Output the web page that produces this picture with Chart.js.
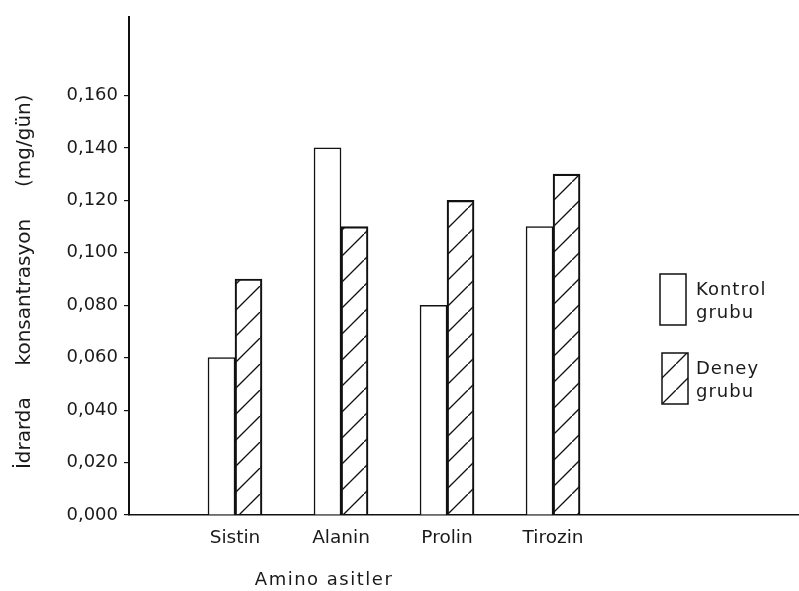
<!DOCTYPE html>
<html>
<head>
<meta charset="utf-8">
<script src="https://cdn.jsdelivr.net/npm/chart.js@4.4.1/dist/chart.umd.min.js"></script>
<style>
  body { margin: 0; background: #fff; }
  #wrap { width: 799px; height: 591px; }
</style>
</head>
<body>
<div id="wrap"><canvas id="chart" width="799" height="591"></canvas></div>
<script>
// values
const categories = ['Sistin', 'Alanin', 'Prolin', 'Tirozin'];
const kontrolGrubu = [0.060, 0.140, 0.080, 0.110];
const deneyGrubu = [0.090, 0.110, 0.120, 0.130];
const yTickValues = [0, 0.02, 0.04, 0.06, 0.08, 0.10, 0.12, 0.14, 0.16];
const seriesNames = [['Kontrol', 'grubu'], ['Deney', 'grubu']];

const FONT = 'DejaVu Sans';
const INK = '#1a1a1a';

// diagonal hatch used for "Deney grubu"
function makeHatch(ctx) {
    const tile = document.createElement('canvas');
    tile.width = 26;
    tile.height = 26;
    const t = tile.getContext('2d');
    t.strokeStyle = '#111';
    t.lineWidth = 1.3;
    t.beginPath();
    t.moveTo(-2, 28); t.lineTo(28, -2);
    t.stroke();
    return ctx.createPattern(tile, 'repeat');
}

// legend box at the right, two text lines per entry
const sideLegend = {
    id: 'sideLegend',
    afterDraw(chart, args, opts) {
        const ctx = chart.ctx;
        ctx.save();
        chart.data.datasets.forEach((ds, i) => {
            const top = opts.top + i * opts.step;
            const left = opts.left + i * opts.shift;
            ctx.fillStyle = ds.backgroundColor;
            ctx.fillRect(left, top, opts.boxWidth, opts.boxHeight);
            ctx.lineWidth = 1.5;
            ctx.strokeStyle = ds.borderColor;
            ctx.strokeRect(left, top, opts.boxWidth, opts.boxHeight);
            ctx.fillStyle = INK;
            ctx.font = '18px "' + FONT + '"';
            ctx.textBaseline = 'middle';
            ctx.letterSpacing = '1px';
            ds.legendLines.forEach((line, j) => {
                ctx.fillText(line, opts.textX, top + opts.textTop + j * opts.lineHeight);
            });
        });
        ctx.restore();
    }
};

// x axis caption, placed in data units of the x scale
const axisCaption = {
    id: 'axisCaption',
    afterDraw(chart, args, opts) {
        const ctx = chart.ctx;
        const x = chart.scales.x.getPixelForValue(opts.at);
        ctx.save();
        ctx.fillStyle = INK;
        ctx.font = '18px "' + FONT + '"';
        ctx.letterSpacing = '1.5px';
        ctx.textAlign = 'center';
        ctx.textBaseline = 'middle';
        ctx.fillText(opts.text, x, chart.chartArea.bottom + opts.offset);
        ctx.restore();
    }
};

const ctx = document.getElementById('chart').getContext('2d');
const hatch = makeHatch(ctx);

new Chart(ctx, {
    type: 'bar',
    data: {
        datasets: [
            {
                label: seriesNames[0].join(' '),
                legendLines: seriesNames[0],
                data: kontrolGrubu.map((v, i) => ({x: i + 1, y: v})),
                backgroundColor: '#ffffff',
                borderColor: '#111',
                borderWidth: 1.5,
                barThickness: 27
            },
            {
                label: seriesNames[1].join(' '),
                legendLines: seriesNames[1],
                data: deneyGrubu.map((v, i) => ({x: i + 1, y: v})),
                backgroundColor: hatch,
                borderColor: '#111',
                borderWidth: 1.5,
                barThickness: 27
            }
        ]
    },
    plugins: [sideLegend, axisCaption],
    options: {
        responsive: false,
        animation: false,
        layout: {padding: {top: 14, right: 0, left: 0, bottom: 0}},
        plugins: {
            legend: {display: false},
            tooltip: {enabled: false},
            sideLegend: {
                left: 660, top: 274, step: 79, shift: 2,
                boxWidth: 26, boxHeight: 51,
                textX: 696, textTop: 16, lineHeight: 23
            },
            axisCaption: {text: 'Amino asitler', at: 1.84, offset: 65}
        },
        scales: {
            x: {
                type: 'linear',
                offset: false,
                min: 0,
                max: 6.32,
                grid: {display: false, drawTicks: false},
                border: {display: true, color: '#111', width: 1.6},
                afterBuildTicks: (scale) => {
                    scale.ticks = categories.map((c, i) => ({value: i + 1}));
                },
                afterFit: (scale) => { scale.height = 76; },
                ticks: {
                    padding: 12,
                    color: INK,
                    font: {family: FONT, size: 18.5},
                    maxRotation: 0,
                    autoSkip: false,
                    callback: (v) => categories[v - 1] || ''
                }
            },
            y: {
                min: 0,
                max: 0.19,
                grid: {
                    display: true,
                    drawOnChartArea: false,
                    drawTicks: true,
                    tickLength: 5,
                    color: '#111',
                    lineWidth: 1.2
                },
                border: {display: true, color: '#111', width: 2},
                afterBuildTicks: (scale) => {
                    scale.ticks = yTickValues.map((v) => ({value: v}));
                },
                afterFit: (scale) => { scale.width = 129; },
                ticks: {
                    padding: 6,
                    color: INK,
                    font: {family: FONT, size: 18},
                    callback: (v) => v.toFixed(3).replace('.', ',')
                },
                title: {
                    display: true,
                    text: 'İdrarda     konsantrasyon     (mg/gün)     ',
                    color: INK,
                    font: {family: FONT, size: 20},
                    padding: {top: 13, bottom: 0}
                }
            }
        }
    }
});
</script>
</body>
</html>
